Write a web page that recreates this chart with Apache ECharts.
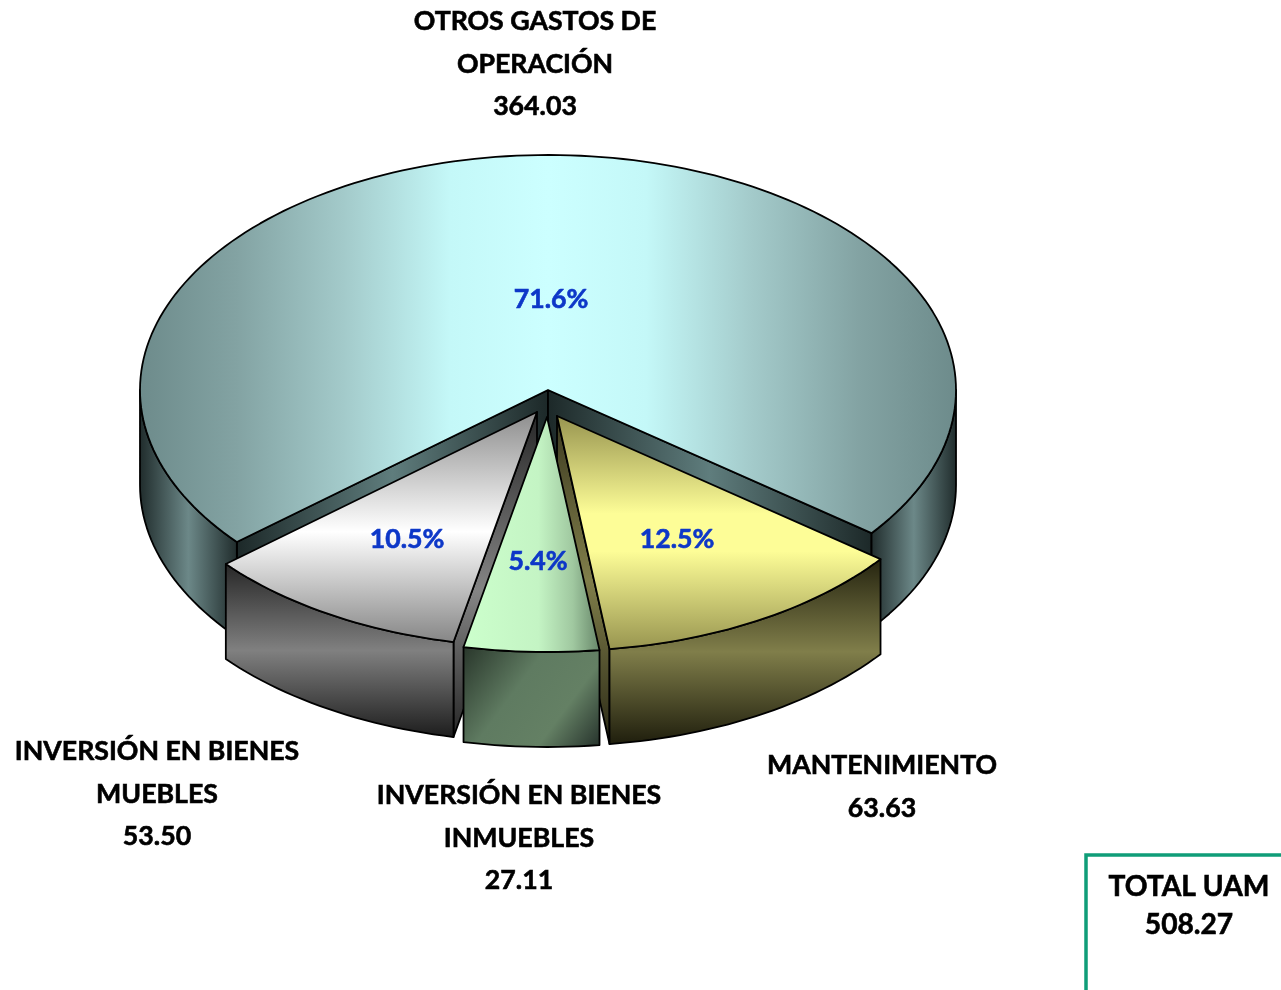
<!DOCTYPE html>
<html>
<head>
<meta charset="utf-8">
<style>html,body{margin:0;padding:0;background:#fff}#chart{width:1281px;height:990px}</style>
<script src="https://cdn.jsdelivr.net/npm/echarts@6/dist/echarts.min.js"></script>
</head>
<body>
<div id="chart"></div>
<script>
const categories = ['OTROS GASTOS DE\nOPERACIÓN', 'MANTENIMIENTO', 'INVERSIÓN EN BIENES\nINMUEBLES', 'INVERSIÓN EN BIENES\nMUEBLES']
const values = [364.03, 63.63, 27.11, 53.50]
const percents = ['71.6%', '12.5%', '5.4%', '10.5%']
const total = 508.27

// pie layout, same order as categories
const cx = 548, cy = 390, rx = 408, ry = 235, depth = 95
const startDeg = 139.7
const explode = [[0, 0], [9, 26], [-1, 27], [-11, 22]]
const drawOrder = [0, 3, 1, 2]
// which cut faces show: 0 = first edge of the slice, 1 = last edge
const visibleCuts = [[0, 1], [1], [], [0]]
const labelPos = [[535, 64], [882, 787], [519, 838], [157, 794]]
const percentPos = [[551, 299], [677, 539], [538, 561], [407, 539]]

const grad = (x, y, x2, y2, colors) => new echarts.graphic.LinearGradient(x, y, x2, y2,
  colors.map(c => ({ offset: c[0], color: c[1] })))

const topFill = [
  grad(0, 0, 1, 0, [[0, '#6d8b8b'], [0.12, '#83a3a3'], [0.25, '#a3caca'], [0.38, '#c4f8f8'], [0.5, '#ccffff'], [0.62, '#c4f8f8'], [0.75, '#a3caca'], [0.88, '#83a3a3'], [1, '#6d8b8b']]),
  grad(0, 0, 0, 1, [[0, '#97944f'], [0.42, '#fdfd97'], [0.58, '#fdfd97'], [1, '#97944f']]),
  grad(0, 0, 1, 0, [[0, '#ccffcc'], [0.55, '#c4f4c4'], [0.8, '#a0c8a0'], [1, '#668568']]),
  grad(0, 0, 0, 1, [[0, '#8c8c8c'], [0.52, '#ffffff'], [1, '#858585']]),
]
const wallFill = [
  grad(0, 0, 1, 0, [[0, '#1f2b2b'], [0.5, '#6c8888'], [1, '#1f2b2b']]),
  grad(0, 0, 0, 1, [[0, '#24230f'], [0.5, '#807e4a'], [1, '#1e1d0c']]),
  grad(0, 0, 1, 1, [[0, '#28352a'], [0.4, '#5f7b61'], [0.7, '#648064'], [1, '#24302a']]),
  grad(0, 0, 0, 1, [[0, '#262626'], [0.5, '#808080'], [1, '#1c1c1c']]),
]
const cutFill = [
  grad(0, 0, 1, 0, [[0, '#1c2828'], [0.5, '#5f7d7d'], [1, '#1c2828']]),
  grad(0, 0, 0, 1, [[0, '#3c3a20'], [0.5, '#807e4a'], [1, '#2a2916']]),
  grad(0, 0, 0, 1, [[0, '#28352a'], [1, '#648064']]),
  grad(0, 0, 0, 1, [[0, '#262626'], [0.55, '#858585'], [1, '#262626']]),
]

const sum = values.reduce((a, b) => a + b, 0)
const spans = []
let acc = startDeg
values.forEach(v => {
  spans.push([acc, acc + v / sum * 360])
  acc += v / sum * 360
})

function rim(deg, ox, oy) {
  const a = deg * Math.PI / 180
  return [cx + ox + rx * Math.cos(a), cy + oy + ry * Math.sin(a)]
}

function arc(from, to, ox, oy) {
  const pts = []
  const n = Math.max(2, Math.ceil((to - from) / 1.5))
  for (let i = 0; i <= n; i++) pts.push(rim(from + (to - from) * i / n, ox, oy))
  return pts
}

const edge = { stroke: '#000', lineWidth: 1.8, lineJoin: 'round' }

function renderSlice(params, api) {
  const i = api.value(0)
  const [from, to] = spans[i]
  const [ox, oy] = explode[i]
  const tip = [cx + ox, cy + oy]
  const children = []
  const poly = (points, fill) => children.push({
    type: 'polygon', shape: { points }, style: { fill, ...edge },
  })
  const drop = p => [p[0], p[1] + depth]

  visibleCuts[i].forEach(k => {
    const p = rim(spans[i][k], ox, oy)
    poly([tip, p, drop(p), drop(tip)], cutFill[i])
  })
  // front part of the outer wall only, the back is hidden by the top
  ;[[0, 180], [360, 540]].forEach(([a, b]) => {
    const lo = Math.max(from, a), hi = Math.min(to, b)
    if (lo >= hi) return
    const pts = arc(lo, hi, ox, oy)
    poly(pts.concat(pts.map(drop).reverse()), wallFill[i])
  })
  poly([tip].concat(arc(from, to, ox, oy)), topFill[i])
  return { type: 'group', children }
}

function textEl(text, pos, font, color, lineHeight) {
  return {
    type: 'text', silent: true, z: 10,
    style: {
      text, x: pos[0], y: pos[1], fill: color, font,
      stroke: color, lineWidth: 0.6,
      lineHeight, align: 'center', verticalAlign: 'middle',
    },
  }
}

const fontFamily = 'Lato, "Open Sans", sans-serif'
const labelFont = 'bold 26.7px ' + fontFamily
const graphics = []
categories.forEach((name, i) => {
  graphics.push(textEl(name + '\n' + values[i].toFixed(2), labelPos[i], labelFont, '#000', 42.5))
  graphics.push(textEl(percents[i], percentPos[i], labelFont, '#0d37c8', 30))
})
graphics.push(textEl('TOTAL UAM\n' + total.toFixed(2), [1189, 906], 'bold 28.2px ' + fontFamily, '#000', 38))
graphics.push({
  type: 'polyline', silent: true,
  shape: { points: [[1281, 855], [1086, 855], [1086, 990]] },
  style: { stroke: '#0f9d78', lineWidth: 3.5, fill: null },
})

const chart = echarts.init(document.getElementById('chart'))
chart.setOption({
  backgroundColor: '#ffffff',
  animation: false,
  graphic: graphics,
  series: [{
    type: 'custom',
    coordinateSystem: 'none',
    silent: true,
    renderItem: renderSlice,
    data: drawOrder.map(i => [i]),
  }],
})
</script>
</body>
</html>
